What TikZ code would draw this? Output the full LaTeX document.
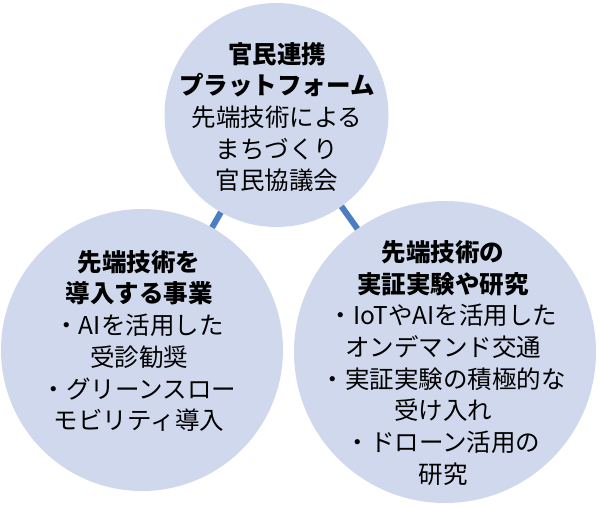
\documentclass[tikz,border=0pt]{standalone}
\usepackage{fontspec}
\newfontfamily\jp{Noto Sans CJK JP}
\definecolor{circfill}{RGB}{207,216,236}
\definecolor{linkblue}{RGB}{74,126,193}
\begin{document}
\begin{tikzpicture}[x=1pt,y=-1pt,
  bubble/.style={circle,fill=circfill,draw=none,inner sep=0pt},
  link/.style={draw=linkblue,line width=6pt},
  label/.style={align=center,font=\jp\fontsize{24.5}{31.7}\selectfont,text=black,inner sep=0pt}]
\useasboundingbox (0,0) rectangle (600,506);
\coordinate (ct) at (276.5,115);
\coordinate (cl) at (142,350);
\coordinate (cr) at (445,352);
\draw[link] (ct) -- (cl);
\draw[link] (ct) -- (cr);
\node[bubble,minimum size=224pt] (top) at (ct) {};
\node[bubble,minimum size=282pt] (left) at (cl) {};
\node[bubble,minimum size=302pt] (right) at (cr) {};
\node[label] (ttop) at (277,117) {\textbf{官民連携}\\\textbf{プラットフォーム}\\先端技術による\\まちづくり\\官民協議会};
\node[label] (tleft) at (139,341) {\textbf{先端技術を}\\\textbf{導入する事業}\\・AIを活用した\\受診勧奨\\・グリーンスロー\\モビリティ導入};
\node[label] (tright) at (443,363) {\textbf{先端技術の}\\\textbf{実証実験や研究}\\・IoTやAIを活用した\\オンデマンド交通\\・実証実験の積極的な\\受け入れ\\・ドローン活用の\\研究};
\end{tikzpicture}
\end{document}
